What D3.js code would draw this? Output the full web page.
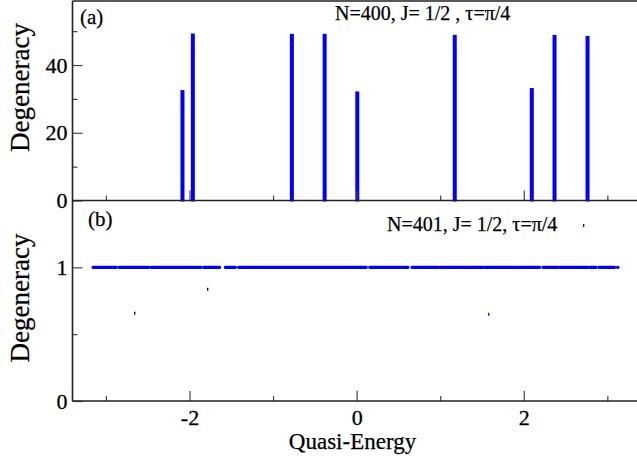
<!DOCTYPE html>
<html>
<head>
<meta charset="utf-8">
<script src="https://cdn.jsdelivr.net/npm/d3@7"></script>
<style>
body { margin: 0; background: #fff; }
svg text { font-family: "Liberation Serif", "Times New Roman", Times, "DejaVu Serif", serif !important; }
</style>
</head>
<body>
<div id="root"></div>
<script>
var width = 637;
var height = 464;

// panel (a), N=400: quasi-energy of each degenerate level and its degeneracy
var energiesA = [-2.084, -1.960, -0.775, -0.383, 0.008, 1.174, 2.096, 2.368, 2.763];
var degenA = [32.6, 49.3, 49.2, 49.2, 32.2, 48.9, 33.2, 48.9, 48.6];

// panel (b), N=401: runs of closely packed levels, all with degeneracy 1
var runStartB = [-3.155, -2.844, -2.457, -1.831, -1.571, -1.412, 0.156, 0.554, 0.662, 0.993, 1.316, 1.532, 1.882, 2.229, 2.429, 2.788, 2.899, 3.120];
var runEndB   = [-2.875, -2.485, -1.858, -1.639, -1.448,  0.116, 0.535, 0.614, 0.973, 1.304, 1.511, 1.870, 2.190, 2.409, 2.768, 2.868, 3.087, 3.127];
var degenB = 1;

// small stray marks left in panel (b)
var strayE = [-1.783, -2.656, 1.580, 2.716];
var strayV = [0.836, 0.657, 0.649, 1.313];
var strayC = ["#000", "#000", "#0000ff", "#0000ff"];

var xMajor = [-2, 0, 2];
var xMinor = [-3, -1, 1, 3];
var yMajorA = [0, 20, 40];
var yMinorA = [10, 30, 50];
var yMajorB = [0, 1];
var yMinorB = [0.5];

var left = 72.5;
var topA = 1, bottomA = 200.5;
var bottomB = 401;
var serif = "'Liberation Serif', 'Times New Roman', Times, 'DejaVu Serif', serif";

var svg = d3.select("#root")
  .append("svg")
  .attr("width", width)
  .attr("height", height)
  .attr("font-family", serif)
  .attr("style", "background-color: white;");

var x = d3.scaleLinear().domain([-3.4, 3.4]).range([left, left + 6.8 * 83.57]);
var yA = d3.scaleLinear().domain([0, 58.9]).range([bottomA, topA]);
var yB = d3.scaleLinear().domain([0, 1.5]).range([bottomB, bottomA]);

/* panel (a) bars */
svg.append("g")
  .selectAll("rect")
  .data(energiesA)
  .enter()
  .append("rect")
  .attr("x", function(d) { return x(d) - 2; })
  .attr("width", 4)
  .attr("y", function(d, i) { return yA(degenA[i]); })
  .attr("height", function(d, i) { return yA(0) - yA(degenA[i]) + 1; })
  .attr("fill", "#0000ff");

/* panel (b) runs of levels */
svg.append("g")
  .selectAll("line")
  .data(runStartB)
  .enter()
  .append("line")
  .attr("x1", function(d) { return x(d); })
  .attr("x2", function(d, i) { return x(runEndB[i]); })
  .attr("y1", yB(degenB))
  .attr("y2", yB(degenB))
  .attr("stroke", "#0000ff")
  .attr("stroke-width", 3.2)
  .attr("stroke-linecap", "round")
  .attr("stroke-dasharray", "3,0.6");

svg.append("g")
  .selectAll("rect")
  .data(strayE)
  .enter()
  .append("rect")
  .attr("x", function(d) { return x(d) - 0.6; })
  .attr("y", function(d, i) { return yB(strayV[i]) - 1.5; })
  .attr("width", 1.3)
  .attr("height", 3)
  .attr("fill", function(d, i) { return strayC[i]; });

/* axes: ticks point inward */
function styleAxis(g) {
  g.attr("font-family", serif);
  g.select(".domain").remove();
  g.selectAll(".tick line").attr("stroke", "#444").attr("stroke-width", 1.2);
  g.selectAll(".tick text")
    .attr("font-size", "22px")
    .attr("fill", "#000")
    .attr("stroke", "#000")
    .attr("stroke-width", 0.3)
    .text(function() { return this.textContent.replace("\u2212", "-"); });
}

// x ticks on both panels
[bottomA, bottomB].forEach(function(yy, k) {
  svg.append("g")
    .attr("transform", "translate(0," + yy + ")")
    .call(d3.axisBottom(x).tickValues(xMajor).tickSizeInner(-10).tickSizeOuter(0)
      .tickPadding(8).tickFormat(k == 1 ? d3.format("d") : ""))
    .call(styleAxis);
  svg.append("g")
    .attr("transform", "translate(0," + yy + ")")
    .call(d3.axisBottom(x).tickValues(xMinor).tickSizeInner(-5).tickSizeOuter(0).tickFormat(""))
    .call(styleAxis);
});

// y ticks
svg.append("g")
  .attr("transform", "translate(" + left + ",0)")
  .call(d3.axisLeft(yA).tickValues(yMajorA).tickSizeInner(-10).tickSizeOuter(0).tickPadding(5).tickFormat(d3.format("d")))
  .call(styleAxis);
svg.append("g")
  .attr("transform", "translate(" + left + ",0)")
  .call(d3.axisLeft(yA).tickValues(yMinorA).tickSizeInner(-5).tickSizeOuter(0).tickFormat(""))
  .call(styleAxis);
svg.append("g")
  .attr("transform", "translate(" + left + ",0)")
  .call(d3.axisLeft(yB).tickValues(yMajorB).tickSizeInner(-10).tickSizeOuter(0).tickPadding(5).tickFormat(d3.format("d")))
  .call(styleAxis);
svg.append("g")
  .attr("transform", "translate(" + left + ",0)")
  .call(d3.axisLeft(yB).tickValues(yMinorB).tickSizeInner(-5).tickSizeOuter(0).tickFormat(""))
  .call(styleAxis);

/* frame lines */
var frame = svg.append("g").attr("stroke", "#222").attr("stroke-width", 1.6);
frame.append("line").attr("x1", left).attr("x2", width).attr("y1", topA).attr("y2", topA);
frame.append("line").attr("x1", left).attr("x2", width).attr("y1", bottomA).attr("y2", bottomA);
frame.append("line").attr("x1", left).attr("x2", width).attr("y1", bottomB).attr("y2", bottomB);
frame.append("line").attr("x1", left).attr("x2", left).attr("y1", topA).attr("y2", bottomB);

/* labels */
var labels = svg.append("g").attr("fill", "#000").attr("stroke", "#000").attr("stroke-width", 0.25);
labels.append("text").attr("x", 80).attr("y", 24).attr("font-size", "21px").text("(a)");
labels.append("text").attr("x", 88).attr("y", 226).attr("font-size", "21px").text("(b)");
labels.append("text").attr("x", 335).attr("y", 20).attr("font-size", "20px").text("N=400, J= 1/2 , \u03c4=\u03c0/4");
labels.append("text").attr("x", 387).attr("y", 231).attr("font-size", "20px").text("N=401, J= 1/2, \u03c4=\u03c0/4");

labels.append("text")
  .attr("transform", "translate(29,87.5) rotate(-90)")
  .attr("text-anchor", "middle")
  .attr("font-size", "27px")
  .text("Degeneracy");
labels.append("text")
  .attr("transform", "translate(29,298) rotate(-90)")
  .attr("text-anchor", "middle")
  .attr("font-size", "27px")
  .text("Degeneracy");
labels.append("text")
  .attr("x", 352.5)
  .attr("y", 449)
  .attr("text-anchor", "middle")
  .attr("font-size", "23px")
  .text("Quasi-Energy");
</script>
</body>
</html>
